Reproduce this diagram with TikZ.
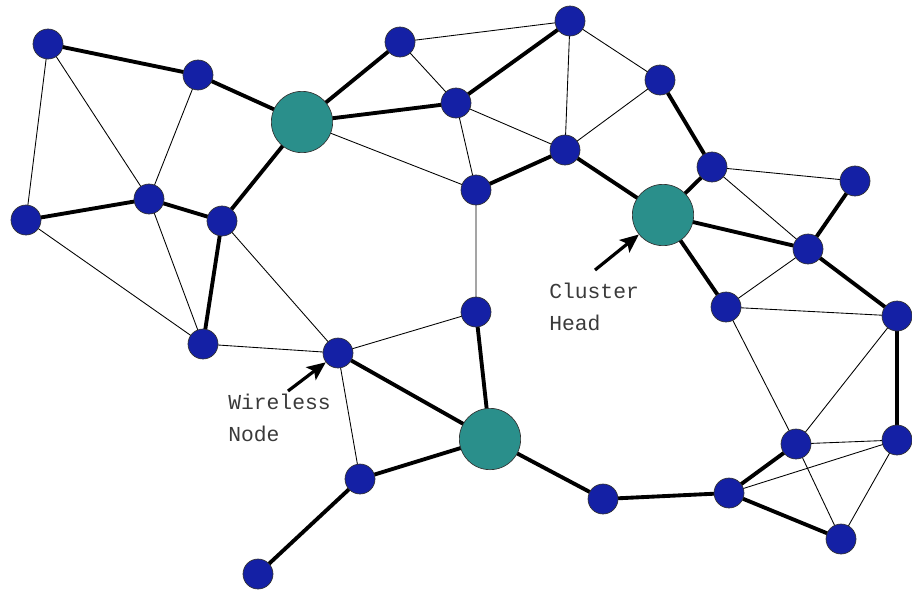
\documentclass[tikz,border=0pt]{standalone}
\usepackage{fontspec}
\newfontfamily\labelfont{Liberation Mono}
\usetikzlibrary{arrows.meta}
\definecolor{nodeblue}{HTML}{1420A5}
\definecolor{headteal}{HTML}{2A8F8B}
\definecolor{labelgray}{HTML}{3A3A3A}
\tikzset{
  wnode/.style={circle, fill=nodeblue, draw=black!80, line width=0.5pt, minimum size=22.5pt, inner sep=0pt},
  chead/.style={circle, fill=headteal, draw=black!80, line width=0.5pt, minimum size=46pt, inner sep=0pt},
  strong/.style={line width=2.9pt},
  weak/.style={line width=0.65pt},
  callout/.style={line width=2.4pt, -{Stealth[length=14pt, width=12pt, inset=3pt]}},
  lbl/.style={font=\labelfont\fontsize{16}{24}\selectfont, text=labelgray, align=left, inner sep=0pt}
}
\begin{document}
\begin{tikzpicture}[x=0.75pt, y=-0.75pt]
\useasboundingbox (0,0) rectangle (912,590);
% ordinary wireless nodes
\coordinate (p1) at (48,44);
\coordinate (p2) at (198,75);
\coordinate (p3) at (400,42);
\coordinate (p4) at (570,21);
\coordinate (p5) at (660,80);
\coordinate (p6) at (456,103);
\coordinate (p7) at (565,150);
\coordinate (p8) at (476,190);
\coordinate (p9) at (712,167);
\coordinate (p10) at (855,181);
\coordinate (p11) at (26,220);
\coordinate (p12) at (149,199);
\coordinate (p13) at (222,221);
\coordinate (p14) at (808,249);
\coordinate (p15) at (726,307);
\coordinate (p16) at (897,316);
\coordinate (p17) at (476,312);
\coordinate (p18) at (203,344);
\coordinate (p19) at (338,353);
\coordinate (p20) at (796,444);
\coordinate (p21) at (897,440);
\coordinate (p22) at (360,479);
\coordinate (p23) at (603,499);
\coordinate (p24) at (729,493);
\coordinate (p25) at (841,539);
\coordinate (p26) at (258,574);
% cluster heads
\coordinate (q1) at (302,122);
\coordinate (q2) at (663,215);
\coordinate (q3) at (490,439);

% thin links
\draw[weak] (p1)--(p11) (p1)--(p12) (p2)--(p12) (p12)--(p18) (p11)--(p18)
  (p13)--(p19) (p18)--(p19) (p19)--(p17) (p19)--(p22)
  (p3)--(p4) (p3)--(p6) (p4)--(p7) (p4)--(p5) (p5)--(p7) (p6)--(p7) (p6)--(p8)
  (q1)--(p8) (p8)--(p17)
  (p9)--(p10) (p9)--(p14) (p14)--(p15) (p15)--(p16) (p15)--(p20)
  (p20)--(p16) (p20)--(p21) (p20)--(p25) (p24)--(p21) (p21)--(p25);
% thick links
\draw[strong] (p1)--(p2) (p2)--(q1) (q1)--(p3) (q1)--(p6) (p6)--(p4)
  (q1)--(p13) (p13)--(p12) (p12)--(p11) (p13)--(p18)
  (p8)--(p7) (p7)--(q2) (q2)--(p9) (p9)--(p5) (q2)--(p14) (p14)--(p10)
  (q2)--(p15) (p14)--(p16) (p16)--(p21)
  (p19)--(q3) (q3)--(p17) (q3)--(p22) (p22)--(p26) (q3)--(p23)
  (p23)--(p24) (p24)--(p20) (p24)--(p25);

% node discs
\foreach \i in {1,...,26} \node[wnode] (n\i) at (p\i) {};
\foreach \i in {1,2,3} \node[chead] (c\i) at (q\i) {};

% labels with pointers (base anchor sits on the second line)
\node[lbl, anchor=base west] (chlabel) at (549,330) {Cluster\\Head};
\node[lbl, anchor=base west] (wnlabel) at (228,441) {Wireless\\Node};
\coordinate (cha) at (595,270);
\coordinate (wna) at (288,391);
\draw[callout] (cha) -- (c2);
\draw[callout] (wna) -- (n19);
\end{tikzpicture}
\end{document}
